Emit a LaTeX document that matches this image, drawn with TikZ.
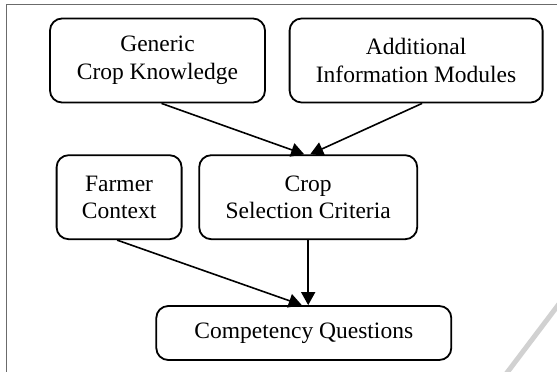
\documentclass[tikz,border=0pt]{standalone}
\usepackage{fontspec}
\setmainfont{Liberation Serif}
\usetikzlibrary{arrows.meta}

\tikzset{
	box/.style={draw, line width=1.8pt, rounded corners=12pt, align=center,
		inner sep=0pt, font=\fontsize{23.5}{27.5}\selectfont},
	link/.style={line width=1.6pt, -{Triangle[length=13pt,width=14pt]}}
}

\begin{document}
\begin{tikzpicture}[x=1pt, y=-1pt]

			\useasboundingbox (0, 0) rectangle (557, 372);

			% Frame
			\draw[line width=1.6pt, black!58] (6.3, 380) -- (6.3, 4.3) -- (565, 4.3);
			\draw[line width=5pt, black!18] (562, 300) -- (503, 378); % mark in the corner

			% Upper row
			\node[box, minimum width=215pt, minimum height=84pt] (gen) at (157.5, 60.5) {Generic\\Crop Knowledge};
			\node[box, minimum width=253pt, minimum height=84pt] (add) at (416.1, 60.5) {Additional\\Information Modules};

			% Middle row
			\node[box, minimum width=125pt, minimum height=84pt] (farm) at (119.1, 197.2) {Farmer\\Context};
			\node[box, minimum width=218pt, minimum height=84pt] (crit) at (308.2, 197.2) {Crop\\Selection Criteria};

			% Lower row
			\node[box, minimum width=295pt, minimum height=54pt] (cq) at (303.8, 333) {Competency Questions};

			% Arrows
			\draw[link] ([xshift=4pt]gen.south) -- ([xshift=-4pt]crit.north);
			\draw[link] ([xshift=6pt]add.south) -- ([xshift=2pt]crit.north);
			\draw[link] ([xshift=-2pt]farm.south) -- ([xshift=-2pt]cq.north);
			\draw[link] (crit.south) -- (crit.south |- cq.north);

		\end{tikzpicture}
\end{document}
